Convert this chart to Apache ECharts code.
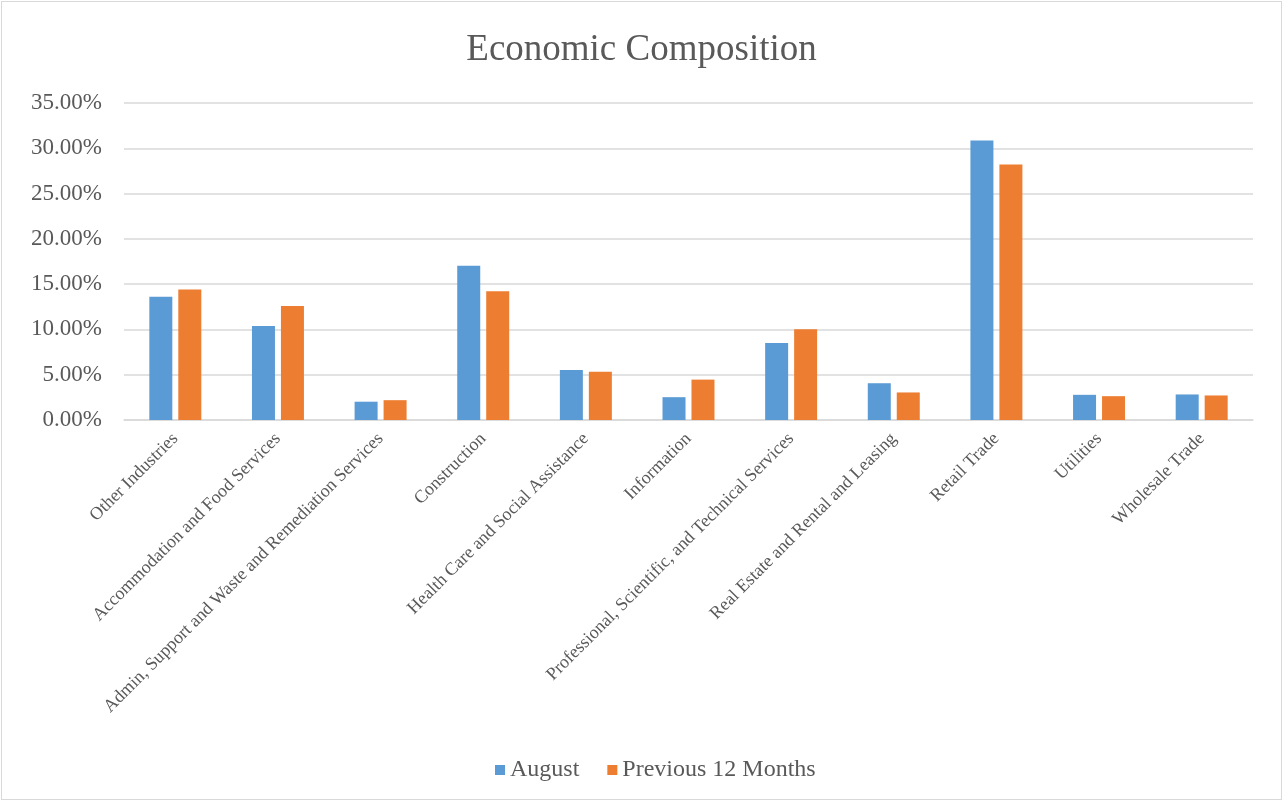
<!DOCTYPE html>
<html>
<head>
<meta charset="utf-8">
<script src="https://cdn.jsdelivr.net/npm/echarts@6/dist/echarts.min.js"></script>
<style>
html,body{margin:0;padding:0;background:#fff;}
#wrap{position:absolute;left:1px;top:1px;width:1281px;height:799px;border:1px solid #d9d9d9;box-sizing:border-box;}
#chart{width:100%;height:100%;}
</style>
</head>
<body>
<div id="wrap"><div id="chart"></div></div>
<script>
const categories = ["Other Industries","Accommodation and Food Services","Admin, Support and Waste and Remediation Services","Construction","Health Care and Social Assistance","Information","Professional, Scientific, and Technical Services","Real Estate and Rental and Leasing","Retail Trade","Utilities","Wholesale Trade"];
const august = [13.60, 10.38, 2.02, 17.04, 5.53, 2.52, 8.49, 4.06, 30.85, 2.78, 2.82];
const previous12 = [14.41, 12.58, 2.19, 14.22, 5.34, 4.46, 10.02, 3.04, 28.21, 2.63, 2.71];
const seriesNames = ["August","Previous 12 Months"];

const font = "'Liberation Serif','Times New Roman',serif";
const chart = echarts.init(document.getElementById('chart'));
chart.setOption({
  animation:false,
  title:{text:"Economic Composition",left:'center',top:25,textStyle:{fontFamily:font,fontSize:37,fontWeight:'normal',color:'#595959'}},
  legend:{bottom:12,left:488,itemWidth:10,itemHeight:10,itemGap:28,icon:'rect',
    textStyle:{fontFamily:font,fontSize:24,color:'#595959'},data:seriesNames},
  grid:{left:122,right:28,top:101,bottom:379,containLabel:false},
  xAxis:{type:'category',data:categories,
    axisLine:{lineStyle:{color:'#d9d9d9',width:1.5}},axisTick:{show:false},
    axisLabel:{rotate:45,interval:0,fontFamily:font,fontSize:18,color:'#595959',margin:16}},
  yAxis:{type:'value',min:0,max:35,interval:5,
    axisLine:{show:false},axisTick:{show:false},
    splitLine:{lineStyle:{color:'#d9d9d9',width:1.5}},
    axisLabel:{formatter:v=>v.toFixed(2)+'%',fontFamily:font,fontSize:23,color:'#595959',margin:22}},
  series:[
    {name:seriesNames[0],type:'bar',data:august,barWidth:23,barGap:'26%',itemStyle:{color:'#5b9bd5'}},
    {name:seriesNames[1],type:'bar',data:previous12,barWidth:23,barGap:'26%',itemStyle:{color:'#ed7d31'}}
  ]
});
</script>
</body>
</html>
